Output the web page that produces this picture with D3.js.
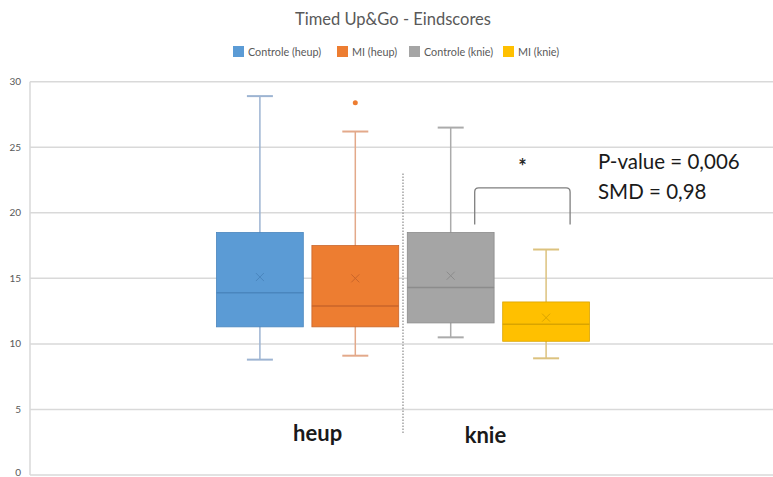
<!DOCTYPE html>
<html>
<head>
<meta charset="utf-8">
<script src="https://cdn.jsdelivr.net/npm/d3@7"></script>
<style>
  body { margin: 0; background: #fff; }
  text { font-family: Lato, "Open Sans", sans-serif; }
</style>
</head>
<body>
<script>
// data
var series = ["Controle (heup)", "MI (heup)", "Controle (knie)", "MI (knie)"]
var colors = ["#5B9BD5", "#ED7D31", "#A5A5A5", "#FFC000"]
var darker = ["#4A86BE", "#C9652A", "#8C8C8C", "#D9A400"]
var whiskerColors = ["#9DB4D2", "#E3A98A", "#ABABAB", "#DCC27E"]
var minVals = [8.8, 9.1, 10.5, 8.9]
var q1Vals = [11.3, 11.3, 11.6, 10.2]
var medVals = [13.9, 12.9, 14.3, 11.5]
var q3Vals = [18.5, 17.5, 18.5, 13.2]
var maxVals = [28.9, 26.2, 26.5, 17.2]
var meanVals = [15.1, 15.0, 15.2, 12.0]
var outliers = [[], [28.4], [], []]
var yTicks = [0, 5, 10, 15, 20, 25, 30]
var groups = ["heup", "knie"]

var width = 773, height = 477

var svg = d3.select("body").append("svg")
  .attr("width", width)
  .attr("height", height)

var y = d3.scaleLinear().domain([0, 30]).range([475, 81.7])

// one category, four boxes in it
var x0 = d3.scaleBand().domain(["all"]).range([30, 776])
  .paddingInner(0).paddingOuter(0.5)
var x1 = d3.scaleBand().domain(series)
  .range([x0("all"), x0("all") + x0.bandwidth()])
  .paddingInner(0.09)

// title
svg.append("text")
  .attr("x", 393).attr("y", 25)
  .attr("text-anchor", "middle")
  .attr("font-size", 16.5)
  .attr("fill", "#595959")
  .text("Timed Up&Go - Eindscores")

// legend
var legendX = [233, 337, 409, 503]
var legend = svg.selectAll("g.legend")
  .data(series)
  .enter().append("g")
  .attr("class", "legend")
  .attr("transform", (d, i) => "translate(" + legendX[i] + ",46)")
legend.append("rect")
  .attr("width", 11).attr("height", 11)
  .attr("fill", (d, i) => colors[i])
legend.append("text")
  .attr("x", 15).attr("y", 9.5)
  .attr("font-size", 10.8)
  .attr("fill", "#595959")
  .text(d => d)

// gridlines
svg.selectAll("line.grid")
  .data(yTicks)
  .enter().append("line")
  .attr("class", "grid")
  .attr("x1", 30).attr("x2", width)
  .attr("y1", d => y(d)).attr("y2", d => y(d))
  .attr("stroke", "#D9D9D9")
  .attr("stroke-width", 1.5)

svg.append("line")
  .attr("x1", 30).attr("x2", 30)
  .attr("y1", y(30)).attr("y2", y(0))
  .attr("stroke", "#D9D9D9")
  .attr("stroke-width", 1.5)

// y tick labels
svg.selectAll("text.ytick")
  .data(yTicks)
  .enter().append("text")
  .attr("class", "ytick")
  .attr("x", 21)
  .attr("y", d => Math.min(y(d) + 3.5, 476))
  .attr("text-anchor", "end")
  .attr("font-size", 10)
  .attr("fill", "#595959")
  .text(d => d)

// boxes
var capW = 26
var box = svg.selectAll("g.box")
  .data(series)
  .enter().append("g")
  .attr("class", "box")

box.append("line")
  .attr("x1", d => x1(d) + x1.bandwidth() / 2)
  .attr("x2", d => x1(d) + x1.bandwidth() / 2)
  .attr("y1", (d, i) => y(maxVals[i]))
  .attr("y2", (d, i) => y(minVals[i]))
  .attr("stroke", (d, i) => whiskerColors[i])
  .attr("stroke-width", 1.5)

box.append("line")
  .attr("x1", d => x1(d) + x1.bandwidth() / 2 - capW / 2)
  .attr("x2", d => x1(d) + x1.bandwidth() / 2 + capW / 2)
  .attr("y1", (d, i) => y(maxVals[i]))
  .attr("y2", (d, i) => y(maxVals[i]))
  .attr("stroke", (d, i) => whiskerColors[i])
  .attr("stroke-width", 2)

box.append("line")
  .attr("x1", d => x1(d) + x1.bandwidth() / 2 - capW / 2)
  .attr("x2", d => x1(d) + x1.bandwidth() / 2 + capW / 2)
  .attr("y1", (d, i) => y(minVals[i]))
  .attr("y2", (d, i) => y(minVals[i]))
  .attr("stroke", (d, i) => whiskerColors[i])
  .attr("stroke-width", 2)

box.append("rect")
  .attr("x", d => x1(d))
  .attr("width", x1.bandwidth())
  .attr("y", (d, i) => y(q3Vals[i]))
  .attr("height", (d, i) => y(q1Vals[i]) - y(q3Vals[i]))
  .attr("fill", (d, i) => colors[i])
  .attr("stroke", (d, i) => darker[i])
  .attr("stroke-width", 0.8)

box.append("line")
  .attr("x1", d => x1(d))
  .attr("x2", d => x1(d) + x1.bandwidth())
  .attr("y1", (d, i) => y(medVals[i]))
  .attr("y2", (d, i) => y(medVals[i]))
  .attr("stroke", (d, i) => darker[i])
  .attr("stroke-width", 1.5)

// mean markers
box.append("path")
  .attr("d", (d, i) => {
    var cx = x1(d) + x1.bandwidth() / 2, cy = y(meanVals[i]), s = 4
    return "M" + (cx - s) + "," + (cy - s) + "L" + (cx + s) + "," + (cy + s) +
      "M" + (cx - s) + "," + (cy + s) + "L" + (cx + s) + "," + (cy - s)
  })
  .attr("stroke", (d, i) => darker[i])
  .attr("stroke-width", 1)
  .attr("fill", "none")

// outliers
series.forEach((s, i) => {
  svg.selectAll(null)
    .data(outliers[i])
    .enter().append("circle")
    .attr("cx", x1(s) + x1.bandwidth() / 2)
    .attr("cy", d => y(d))
    .attr("r", 2.5)
    .attr("fill", colors[i])
})

// divider between heup and knie
var midX = x0("all") + x0.bandwidth() / 2
svg.append("line")
  .attr("x1", midX).attr("x2", midX)
  .attr("y1", y(23)).attr("y2", y(3.2))
  .attr("stroke", "#8C8C8C")
  .attr("stroke-width", 1.2)
  .attr("stroke-dasharray", "1.5,1.5")

// group labels
var groupX = [
  (x1(series[0]) + x1(series[1]) + x1.bandwidth()) / 2 + 10,
  (x1(series[2]) + x1(series[3]) + x1.bandwidth()) / 2 - 13
]
svg.selectAll("text.group")
  .data(groups)
  .enter().append("text")
  .attr("class", "group")
  .attr("x", (d, i) => groupX[i])
  .attr("y", (d, i) => i ? 443 : 441)
  .attr("text-anchor", "middle")
  .attr("font-size", 22)
  .attr("font-weight", "bold")
  .attr("fill", "#1a1a1a")
  .text(d => d)

// significance bracket
var bx1 = x1(series[2]) + x1.bandwidth() / 2 + 24
var bx2 = x1(series[3]) + x1.bandwidth() / 2 + 24
var bTop = y(21.9), bBot = y(19.1), r = 4
svg.append("path")
  .attr("d", "M" + bx1 + "," + bBot + "L" + bx1 + "," + (bTop + r) +
    "Q" + bx1 + "," + bTop + " " + (bx1 + r) + "," + bTop +
    "L" + (bx2 - r) + "," + bTop +
    "Q" + bx2 + "," + bTop + " " + bx2 + "," + (bTop + r) +
    "L" + bx2 + "," + bBot)
  .attr("fill", "none")
  .attr("stroke", "#7F7F7F")
  .attr("stroke-width", 1.3)

svg.append("text")
  .attr("x", (bx1 + bx2) / 2).attr("y", 174)
  .attr("text-anchor", "middle")
  .attr("font-size", 20)
  .attr("font-weight", "bold")
  .attr("fill", "#262626")
  .text("*")

svg.append("text")
  .attr("x", 598).attr("y", 169)
  .attr("font-size", 20.5)
  .attr("fill", "#1a1a1a")
  .text("P-value = 0,006")
svg.append("text")
  .attr("x", 598).attr("y", 199)
  .attr("font-size", 20.5)
  .attr("fill", "#1a1a1a")
  .text("SMD = 0,98")
</script>
</body>
</html>
